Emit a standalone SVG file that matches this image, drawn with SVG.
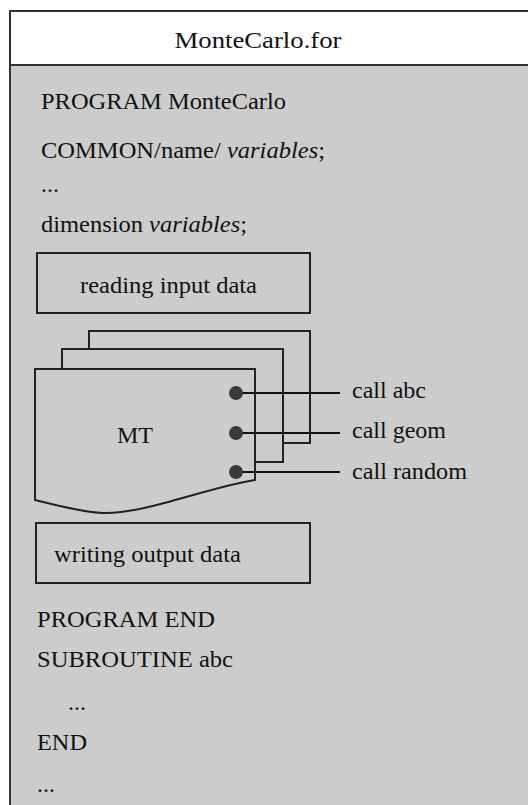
<svg xmlns="http://www.w3.org/2000/svg" width="528" height="805" viewBox="0 0 528 805">
<style>
text{font-family:"Liberation Serif","Times New Roman",serif;font-size:24px;fill:#111}
.box{fill:#cccccc;stroke:#222;stroke-width:2}
.card{fill:#cccccc;stroke:#222;stroke-width:2}
.conn{stroke:#111;stroke-width:2;fill:none}
.dot{fill:#3a3a3a}
</style>
<rect x="0" y="0" width="528" height="805" fill="#ffffff"/>
<g id="frame">
<rect x="10" y="11" width="530" height="810" fill="#cccccc" stroke="#333" stroke-width="2"/>
<rect x="10" y="11" width="530" height="54" fill="#ffffff" stroke="#333" stroke-width="2"/>
<text x="258" y="48" text-anchor="middle" font-size="25" textLength="167" lengthAdjust="spacingAndGlyphs">MonteCarlo.for</text>
</g>
<g id="code-top">
<text x="41" y="109" textLength="245" lengthAdjust="spacingAndGlyphs">PROGRAM MonteCarlo</text>
<text x="41" y="158" textLength="284" lengthAdjust="spacingAndGlyphs">COMMON/name/ <tspan font-style="italic">variables</tspan>;</text>
<text x="41" y="192">...</text>
<text x="41" y="232" textLength="206" lengthAdjust="spacingAndGlyphs">dimension <tspan font-style="italic">variables</tspan>;</text>
</g>
<g id="reading">
<rect class="box" x="37" y="253" width="273" height="60"/>
<text x="80" y="293" textLength="177" lengthAdjust="spacingAndGlyphs">reading input data</text>
</g>
<g id="MT">
<rect class="card" x="89" y="331" width="221" height="112"/>
<rect class="card" x="62" y="349" width="221" height="113"/>
<path class="card" d="M35,369 H255 V480 C205,488 145,514 103,513 C80,512 55,505 35,500 Z"/>
<text x="135" y="443" text-anchor="middle" textLength="36" lengthAdjust="spacingAndGlyphs">MT</text>
</g>
<g id="connectors">
<line class="conn" x1="236" y1="393" x2="340" y2="393"/>
<line class="conn" x1="236" y1="433" x2="340" y2="433"/>
<line class="conn" x1="236" y1="472" x2="340" y2="472"/>
<circle class="dot" cx="236" cy="393" r="7"/>
<circle class="dot" cx="236" cy="433" r="7"/>
<circle class="dot" cx="236" cy="472" r="7"/>
</g>
<g id="calls">
<text x="352" y="398" textLength="74" lengthAdjust="spacingAndGlyphs">call abc</text>
<text x="352" y="438" textLength="94" lengthAdjust="spacingAndGlyphs">call geom</text>
<text x="352" y="479" textLength="115" lengthAdjust="spacingAndGlyphs">call random</text>
</g>
<g id="writing">
<rect class="box" x="36" y="523" width="274" height="60"/>
<text x="54" y="562" textLength="187" lengthAdjust="spacingAndGlyphs">writing output data</text>
</g>
<g id="code-bottom">
<text x="37" y="627" textLength="178" lengthAdjust="spacingAndGlyphs">PROGRAM END</text>
<text x="37" y="667" textLength="196" lengthAdjust="spacingAndGlyphs">SUBROUTINE abc</text>
<text x="68" y="710">...</text>
<text x="37" y="750" textLength="50" lengthAdjust="spacingAndGlyphs">END</text>
<text x="37" y="792">...</text>
</g>
</svg>
